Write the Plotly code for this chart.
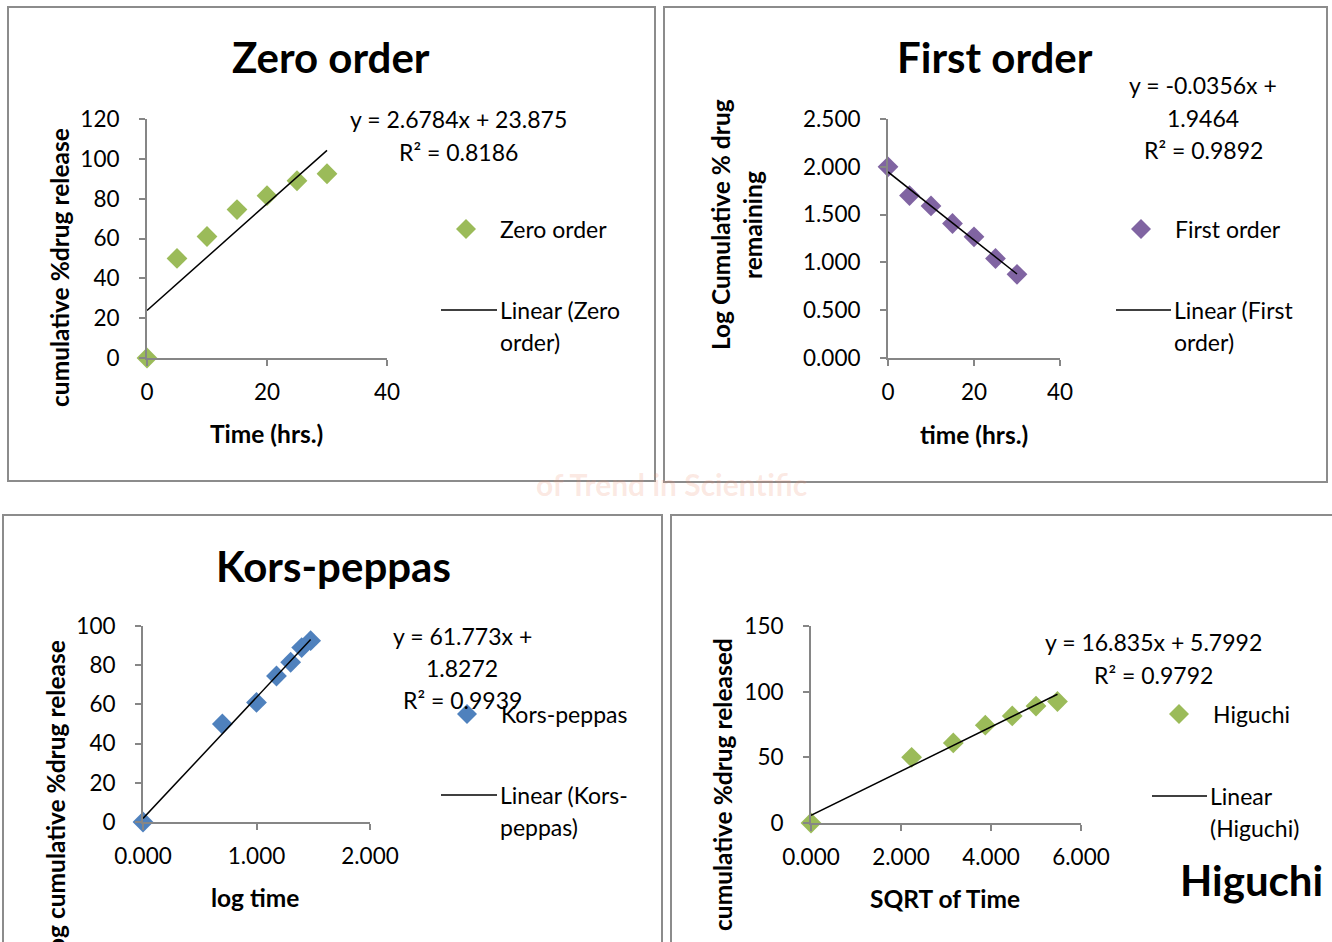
import plotly.graph_objects as go

W, H = 1332, 942
FONT = "Lato"

# ---- release data -------------------------------------------------------
time_hrs = [0, 5, 10, 15, 20, 25, 30]
cum_release = [0, 50, 61, 74.5, 81.5, 89, 92.5]
log_remaining = [2.000, 1.699, 1.591, 1.407, 1.267, 1.041, 0.875]
log_time = [0.000, 0.699, 1.000, 1.176, 1.301, 1.398, 1.477]
sqrt_time = [0.000, 2.236, 3.162, 3.873, 4.472, 5.000, 5.477]

# ---- linear fits: (slope, intercept) and R² ------------------------------
zero_fit = (2.6784, 23.875)
first_fit = (-0.0356, 1.9464)
kp_fit = (61.773, 1.8272)
hig_fit = (16.835, 5.7992)
r2_values = {"zero": 0.8186, "first": 0.9892, "kp": 0.9939, "hig": 0.9792}

GREEN = "#9BBB59"
PURPLE = "#8064A2"
BLUE = "#4F81BD"
AXIS = "#868686"
BORDER = "#8c8c8c"


def px(x):
    return x / W


def py(y):
    return 1 - y / H


fig = go.Figure()


def add_panel(n, xs, ys, fit, color, name):
    xa = "x" if n == 1 else f"x{n}"
    ya = "y" if n == 1 else f"y{n}"
    fig.add_trace(go.Scatter(
        x=xs, y=ys, mode="markers", name=name, xaxis=xa, yaxis=ya,
        marker=dict(symbol="diamond", size=16, color=color),
        cliponaxis=False, showlegend=False,
    ))
    x0, x1 = min(xs), max(xs)
    fig.add_trace(go.Scatter(
        x=[x0, x1], y=[fit[0] * x0 + fit[1], fit[0] * x1 + fit[1]],
        mode="lines", name=f"Linear ({name})", xaxis=xa, yaxis=ya,
        line=dict(color="black", width=1.5), cliponaxis=False, showlegend=False,
    ))


add_panel(1, time_hrs, cum_release, zero_fit, GREEN, "Zero order")
add_panel(2, time_hrs, log_remaining, first_fit, PURPLE, "First order")
add_panel(3, log_time, cum_release, kp_fit, BLUE, "Kors-peppas")
add_panel(4, sqrt_time, cum_release, hig_fit, GREEN, "Higuchi")

axis_common = dict(
    showgrid=False, zeroline=False, showline=True, linecolor=AXIS, linewidth=2,
    ticks="outside", ticklen=6, tickcolor=AXIS, tickwidth=2, automargin=False,
    tickfont=dict(family=FONT, size=22.5, color="black"),
)


def xaxis(left, right, rng, dtick, fmt=None):
    d = dict(axis_common, domain=[px(left), px(right)], range=rng, dtick=dtick,
             tick0=0, ticklabelstandoff=7)
    if fmt:
        d["tickformat"] = fmt
    return d


def yaxis(top, bottom, rng, dtick, fmt=None):
    d = dict(axis_common, domain=[py(bottom), py(top)], range=rng, dtick=dtick,
             tick0=0, ticklabelstandoff=15)
    if fmt:
        d["tickformat"] = fmt
    return d


fig.update_layout(
    xaxis=dict(xaxis(147, 387, [0, 40], 20), anchor="y"),
    yaxis=dict(yaxis(119, 358, [0, 120], 20), anchor="x"),
    xaxis2=dict(xaxis(888, 1060, [0, 40], 20), anchor="y2"),
    yaxis2=dict(yaxis(119, 358, [0, 2.5], 0.5, ".3f"), anchor="x2"),
    xaxis3=dict(xaxis(143, 370, [0, 2], 1, ".3f"), anchor="y3"),
    yaxis3=dict(yaxis(626, 822, [0, 100], 20), anchor="x3"),
    xaxis4=dict(xaxis(811, 1081, [0, 6], 2, ".3f"), anchor="y4"),
    yaxis4=dict(yaxis(626, 823, [0, 150], 50), anchor="x4"),
)

shapes = []
annotations = []

# panel frames
for (l, t, r, b) in [(8, 7, 655, 481), (664, 7, 1327, 482),
                     (3, 515, 662, 960), (671, 515, 1340, 960)]:
    shapes.append(dict(type="rect", xref="paper", yref="paper",
                       x0=px(l), x1=px(r), y0=py(b), y1=py(t),
                       line=dict(color=BORDER, width=2), fillcolor="rgba(0,0,0,0)",
                       layer="below"))


def text(s, x, y, size=23, bold=False, xanchor="center", angle=0, color="black"):
    annotations.append(dict(
        text=f"<b>{s}</b>" if bold else s, x=px(x), y=py(y),
        xref="paper", yref="paper", showarrow=False, xanchor=xanchor,
        yanchor="middle", textangle=angle,
        font=dict(family=FONT, size=size, color=color),
    ))


def legend_entry_marker(x, y, color, label):
    d = 10
    shapes.append(dict(
        type="path", xref="paper", yref="paper",
        path=(f"M {px(x - d)},{py(y)} L {px(x)},{py(y - d)} "
              f"L {px(x + d)},{py(y)} L {px(x)},{py(y + d)} Z"),
        fillcolor=color, line=dict(width=0),
    ))
    text(label, x + 32, y, xanchor="left")


def legend_entry_line(x0, x1, y, lines):
    shapes.append(dict(type="line", xref="paper", yref="paper",
                       x0=px(x0), x1=px(x1), y0=py(y), y1=py(y),
                       line=dict(color="black", width=1.5)))
    for i, s in enumerate(lines):
        text(s, x1 + 1, y + 32 * i, xanchor="left")


# watermark between the panels
text("of Trend in Scientific", 672, 484, size=30, bold=True,
     color="rgba(236,140,110,0.2)")

# titles
text("Zero order", 331, 57, size=42, bold=True)
text("First order", 995, 57, size=42, bold=True)
text("Kors-peppas", 333, 566, size=42, bold=True)
text("Higuchi", 1251, 880, size=42, bold=True)

# axis titles
AT = 24.5
text("cumulative %drug release", 60, 268, size=AT, bold=True, angle=-90)
text("Time (hrs.)", 266, 433, size=AT, bold=True)
text("Log Cumulative % drug", 720, 225, size=AT, bold=True, angle=-90)
text("remaining", 752, 225, size=AT, bold=True, angle=-90)
text("time (hrs.)", 974, 434, size=AT, bold=True)
text("Log cumulative %drug release", 55, 802, size=AT, bold=True, angle=-90)
text("log time", 255, 897, size=AT, bold=True)
text("cumulative %drug released", 722, 785, size=AT, bold=True, angle=-90)
text("SQRT of Time", 945, 898, size=AT, bold=True)

# fit equations
text(f"y = {zero_fit[0]}x + {zero_fit[1]}", 459, 119)
text(f"R² = {r2_values['zero']}", 459, 152)
text(f"y = {first_fit[0]}x +", 1203, 85)
text(f"{first_fit[1]}", 1203, 118)
text(f"R² = {r2_values['first']}", 1203, 150)
text(f"y = {kp_fit[0]}x +", 462, 636)
text(f"{kp_fit[1]}", 462, 668)
text(f"R² = {r2_values['kp']}", 462, 700)
text(f"y = {hig_fit[0]}x + {hig_fit[1]}", 1153, 642)
text(f"R² = {r2_values['hig']}", 1153, 675)

# legends
legend_entry_marker(466, 229, GREEN, "Zero order")
legend_entry_line(441, 497, 310, ["Linear (Zero", "order)"])
legend_entry_marker(1141, 229, PURPLE, "First order")
legend_entry_line(1116, 1171, 310, ["Linear (First", "order)"])
legend_entry_marker(467, 714, BLUE, "Kors-peppas")
legend_entry_line(441, 497, 795, ["Linear (Kors-", "peppas)"])
legend_entry_marker(1179, 714, GREEN, "Higuchi")
legend_entry_line(1152, 1207, 796, ["Linear", "(Higuchi)"])

fig.update_layout(
    width=W, height=H, autosize=False,
    margin=dict(l=0, r=0, t=0, b=0, pad=0, autoexpand=False),
    paper_bgcolor="white", plot_bgcolor="rgba(0,0,0,0)",
    showlegend=False, shapes=shapes, annotations=annotations,
    font=dict(family=FONT, color="black"),
)

fig.write_html("out.html")
